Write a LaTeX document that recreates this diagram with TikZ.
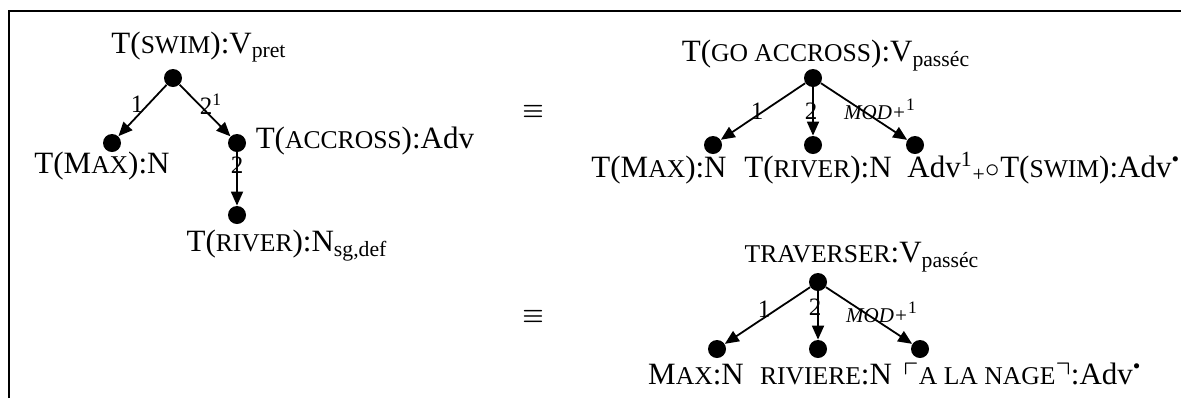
\documentclass[tikz,border=0pt]{standalone}
\usepackage{amssymb}
\usepackage{fontspec}
\setmainfont{Liberation Serif}
\usetikzlibrary{arrows.meta,positioning}

\newcommand{\smc}[1]{{\fontsize{12.8pt}{15pt}\selectfont #1}}
\newcommand{\modlab}{{\fontsize{10.5pt}{12pt}\selectfont\itshape MOD+}\textsuperscript{1}}

\tikzset{
	dot/.style={circle,fill,inner sep=0pt,minimum size=9pt},
	lab/.style={inner sep=0pt,font=\fontsize{15.5pt}{18pt}\selectfont},
	elab/.style={inner sep=0pt,font=\fontsize{12.5pt}{14pt}\selectfont},
	eqv/.style={inner sep=0pt,font=\fontsize{12pt}{14pt}\selectfont\boldmath},
	arr/.style={-{Triangle[length=7pt,width=6pt]},line width=0.9pt}
}

\begin{document}
\begin{tikzpicture}[x=0.5pt,y=-0.5pt]
\useasboundingbox (0,0) rectangle (1181,398);
\draw[line width=1.3pt] (9,398) -- (9,11) -- (1181,11);

% source tree
\node[dot] (r1) at (173,78) {};
\node[dot] (a1) at (112,143) {};
\node[dot] (b1) at (237,143) {};
\node[dot] (c1) at (237,215) {};
\node[lab,anchor=base] (r1l) at ([xshift=13pt,yshift=7.5pt]r1.north) {T(\smc{SWIM}):V\textsubscript{pret}};
\node[lab,anchor=base] (a1l) at ([xshift=-5pt,yshift=-10.5pt]a1.south) {T(M\smc{AX}):N};
\node[lab,anchor=base west] (b1l) at ([xshift=4.5pt,yshift=-2.5pt]b1.east) {T(\smc{ACCROSS}):Adv};
\node[lab,anchor=base] (c1l) at ([xshift=25pt,yshift=-13.5pt]c1.south) {T(\smc{RIVER}):N\textsubscript{sg,def}};
\draw[arr] (r1) -- node[elab,xshift=-2.75pt,yshift=3.25pt] {1} (a1);
\draw[arr] (r1) -- node[elab,xshift=3pt,yshift=3pt] {2\textsuperscript{1}} (b1);
\draw[arr] (b1) -- node[elab,pos=.25] {2} (c1);

\node[eqv] (eq1) at (533,111) {$\equiv$};
\node[eqv] (eq2) at (533,316) {$\equiv$};

% english target
\node[dot] (r2) at (813,78) {};
\node[dot] (a2) at (713,145) {};
\node[dot] (b2) at (813,145) {};
\node[dot] (c2) at (915,145) {};
\node[lab,anchor=base] (r2l) at ([xshift=6.5pt,yshift=3.5pt]r2.north) {T(\smc{GO ACCROSS}):V\textsubscript{passéc}};
\node[lab,anchor=base] (a2l) at ([xshift=-27pt,yshift=-11.5pt]a2.south) {T(M\smc{AX}):N};
\node[lab,anchor=base] (b2l) at ([xshift=2.5pt,yshift=-11.5pt]b2.south) {T(\smc{RIVER}):N};
\node[lab,anchor=base west] (c2l) at ([xshift=-4pt,yshift=-11.5pt]c2.south) {Adv\textsuperscript{1}\textsubscript{+}$\circ$T(\smc{SWIM}):Adv\textsuperscript{•}};
\draw[arr] (r2) -- node[elab,xshift=-3pt] {1} (a2);
\draw[arr] (r2) -- node[elab,xshift=-1pt] {2} (b2);
\draw[arr] (r2) -- node[elab,xshift=8pt,yshift=1.25pt] {\modlab} (c2);

% french target
\node[dot] (r3) at (818,282) {};
\node[dot] (a3) at (717,349) {};
\node[dot] (b3) at (818,349) {};
\node[dot] (c3) at (920,349) {};
\node[lab,anchor=base] (r3l) at ([xshift=22pt,yshift=5pt]r3.north) {\smc{TRAVERSER}:V\textsubscript{passéc}};
\node[lab,anchor=base] (a3l) at ([xshift=-10.5pt,yshift=-13pt]a3.south) {M\smc{AX}:N};
\node[lab,anchor=base] (b3l) at ([xshift=4pt,yshift=-13pt]b3.south) {\smc{RIVIERE}:N};
\node[lab,anchor=base west] (c3l) at ([xshift=-8.5pt,yshift=-13pt]c3.south) {$\ulcorner$\smc{A LA NAGE}$\urcorner$:Adv\textsuperscript{•}};
\draw[arr] (r3) -- node[elab,xshift=-1.75pt,yshift=3.25pt] {1} (a3);
\draw[arr] (r3) -- node[elab,xshift=-1.5pt,yshift=4pt] {2} (b3);
\draw[arr] (r3) -- node[elab,xshift=6.5pt,yshift=1.75pt] {\modlab} (c3);

\end{tikzpicture}
\end{document}
